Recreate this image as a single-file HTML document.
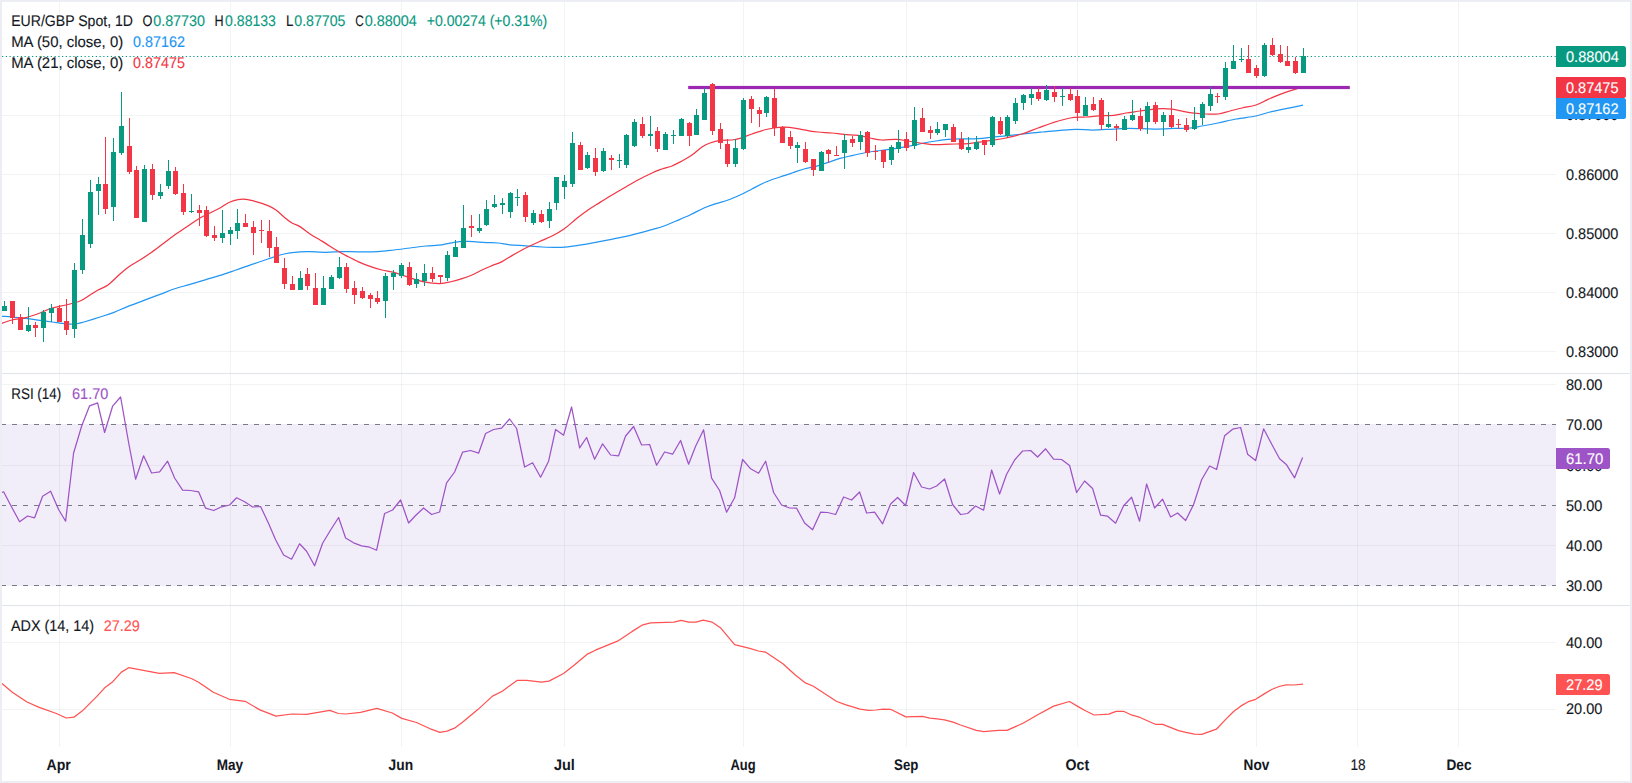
<!DOCTYPE html>
<html lang="en"><head><meta charset="utf-8"><title>EUR/GBP Spot, 1D</title>
<style>html,body{margin:0;padding:0;background:#fff;overflow:hidden}svg{display:block}text{font-family:"Liberation Sans","DejaVu Sans",sans-serif;font-size:15.4px;text-rendering:geometricPrecision;fill:#131722}.n{font-size:15.4px}text{stroke:#131722;stroke-width:0.12px}.b{font-weight:bold;stroke-width:0.05px}.w{fill:#fff;stroke:#fff}.g{fill:#089981;stroke:#089981}.bl{fill:#2196f3;stroke:#2196f3}.r{fill:#f23645;stroke:#f23645}.p{fill:#9d54c6;stroke:#9d54c6}.a{fill:#ff5252;stroke:#ff5252}</style></head><body>
<svg width="1632" height="783" viewBox="0 0 1632 783">
<rect width="1632" height="783" fill="#fff"/>
<g shape-rendering="crispEdges" fill="rgba(42,46,57,0.06)">
<rect x="59" y="2" width="1" height="745"/>
<rect x="230" y="2" width="1" height="745"/>
<rect x="401" y="2" width="1" height="745"/>
<rect x="564" y="2" width="1" height="745"/>
<rect x="743" y="2" width="1" height="745"/>
<rect x="906" y="2" width="1" height="745"/>
<rect x="1077" y="2" width="1" height="745"/>
<rect x="1256" y="2" width="1" height="745"/>
<rect x="1357" y="2" width="1" height="745"/>
<rect x="1458" y="2" width="1" height="745"/>
<rect x="2" y="115" width="1554" height="1"/>
<rect x="2" y="174" width="1554" height="1"/>
<rect x="2" y="233" width="1554" height="1"/>
<rect x="2" y="292" width="1554" height="1"/>
<rect x="2" y="351" width="1554" height="1"/>
<rect x="2" y="384" width="1554" height="1"/>
<rect x="2" y="465" width="1554" height="1"/>
<rect x="2" y="545" width="1554" height="1"/>
<rect x="2" y="642" width="1554" height="1"/>
<rect x="2" y="709" width="1554" height="1"/>
</g>
<rect x="2" y="424" width="1554" height="162" fill="rgba(126,87,194,0.1)" shape-rendering="crispEdges"/>
<line x1="1" y1="424.5" x2="1556" y2="424.5" stroke="#787b86" stroke-width="1" stroke-dasharray="5 6" shape-rendering="crispEdges"/>
<line x1="1" y1="505.5" x2="1556" y2="505.5" stroke="#787b86" stroke-width="1" stroke-dasharray="5 6" shape-rendering="crispEdges"/>
<line x1="1" y1="585.5" x2="1556" y2="585.5" stroke="#787b86" stroke-width="1" stroke-dasharray="5 6" shape-rendering="crispEdges"/>
<g shape-rendering="crispEdges">
<rect x="0" y="373" width="1632" height="1" fill="#e0e3eb"/>
<rect x="0" y="605" width="1632" height="1" fill="#e0e3eb"/>
</g>
<line x1="2" y1="56.5" x2="1556" y2="56.5" stroke="#089981" stroke-width="1" stroke-dasharray="1.25 2.5"/>
<path d="M0.0 316.0C2.0 316.2 7.7 316.6 12.0 317.0C16.3 317.4 21.3 317.8 26.0 318.4C30.7 319.0 35.7 319.8 40.0 320.4C44.3 321.0 47.7 321.4 52.0 322.0C56.3 322.6 62.0 323.7 66.0 324.0C70.0 324.3 73.0 324.3 76.0 324.0C79.0 323.7 80.0 323.2 84.0 322.0C88.0 320.8 95.0 318.6 100.0 317.0C105.0 315.4 109.3 314.2 114.0 312.4C118.7 310.6 123.0 308.4 128.0 306.4C133.0 304.4 138.7 302.4 144.0 300.4C149.3 298.4 155.0 296.3 160.0 294.4C165.0 292.5 169.0 290.7 174.0 289.0C179.0 287.3 184.7 286.0 190.0 284.4C195.3 282.8 201.0 281.1 206.0 279.6C211.0 278.1 215.0 277.0 220.0 275.4C225.0 273.8 230.7 271.8 236.0 270.0C241.3 268.2 246.7 266.2 252.0 264.4C257.3 262.6 263.3 260.6 268.0 259.0C272.7 257.4 276.3 256.0 280.0 255.0C283.7 254.0 286.7 253.3 290.0 252.8C293.3 252.3 296.7 252.0 300.0 251.8C303.3 251.6 305.7 251.5 310.0 251.6C314.3 251.7 320.7 252.3 326.0 252.3C331.3 252.3 336.7 251.7 342.0 251.6C347.3 251.5 352.0 251.8 358.0 251.8C364.0 251.8 372.0 251.9 378.0 251.6C384.0 251.3 388.7 250.6 394.0 250.0C399.3 249.4 404.7 248.7 410.0 248.0C415.3 247.3 420.7 246.5 426.0 246.0C431.3 245.5 437.3 245.4 442.0 244.8C446.7 244.2 450.0 243.0 454.0 242.4C458.0 241.8 462.7 241.5 466.0 241.4C469.3 241.3 470.7 241.4 474.0 241.6C477.3 241.8 482.0 242.4 486.0 242.6C490.0 242.8 494.0 242.6 498.0 243.0C502.0 243.4 505.3 244.3 510.0 244.8C514.7 245.3 520.7 245.4 526.0 245.8C531.3 246.2 536.0 246.7 542.0 247.0C548.0 247.3 556.0 247.7 562.0 247.4C568.0 247.1 572.7 246.2 578.0 245.4C583.3 244.6 588.7 243.6 594.0 242.6C599.3 241.6 604.7 240.6 610.0 239.6C615.3 238.6 620.7 237.6 626.0 236.4C631.3 235.2 637.7 233.5 642.0 232.4C646.3 231.3 648.3 230.7 652.0 229.6C655.7 228.5 660.0 227.4 664.0 226.0C668.0 224.6 671.7 222.8 676.0 221.0C680.3 219.2 685.3 217.2 690.0 215.0C694.7 212.8 699.7 209.9 704.0 208.0C708.3 206.1 712.0 204.9 716.0 203.6C720.0 202.3 724.0 201.4 728.0 200.0C732.0 198.6 736.0 196.8 740.0 195.0C744.0 193.2 747.7 191.2 752.0 189.0C756.3 186.8 761.3 184.0 766.0 182.0C770.7 180.0 775.7 178.5 780.0 177.0C784.3 175.5 788.0 174.3 792.0 173.0C796.0 171.7 800.0 170.1 804.0 169.0C808.0 167.9 812.0 167.5 816.0 166.4C820.0 165.3 824.0 163.7 828.0 162.4C832.0 161.1 836.0 159.5 840.0 158.4C844.0 157.3 848.0 156.5 852.0 155.6C856.0 154.7 860.0 153.8 864.0 153.0C868.0 152.2 872.0 151.6 876.0 151.0C880.0 150.4 884.0 150.2 888.0 149.6C892.0 149.0 896.0 148.3 900.0 147.6C904.0 146.9 908.0 146.4 912.0 145.6C916.0 144.8 920.0 143.8 924.0 143.0C928.0 142.2 932.0 141.6 936.0 141.0C940.0 140.4 944.0 139.8 948.0 139.4C952.0 139.0 955.0 138.9 960.0 138.8C965.0 138.7 972.3 138.9 978.0 138.6C983.7 138.3 988.7 137.5 994.0 137.0C999.3 136.5 1004.7 136.0 1010.0 135.4C1015.3 134.8 1020.7 134.2 1026.0 133.6C1031.3 133.0 1036.7 132.5 1042.0 132.0C1047.3 131.5 1052.3 131.0 1058.0 130.6C1063.7 130.2 1070.3 129.5 1076.0 129.4C1081.7 129.3 1086.7 130.0 1092.0 130.0C1097.3 130.0 1102.3 129.7 1108.0 129.4C1113.7 129.1 1120.3 128.5 1126.0 128.4C1131.7 128.3 1136.7 128.5 1142.0 128.6C1147.3 128.7 1152.7 129.0 1158.0 129.0C1163.3 129.0 1168.7 128.6 1174.0 128.4C1179.3 128.2 1185.3 128.4 1190.0 128.0C1194.7 127.6 1197.3 126.8 1202.0 126.0C1206.7 125.2 1212.3 124.2 1218.0 123.0C1223.7 121.8 1229.7 120.2 1236.0 119.0C1242.3 117.8 1250.3 117.2 1256.0 116.0C1261.7 114.8 1265.0 113.2 1270.0 112.0C1275.0 110.8 1280.5 109.7 1286.0 108.6C1291.5 107.5 1300.2 105.8 1303.0 105.2" fill="none" stroke="#2196f3" stroke-width="1.25" stroke-linejoin="round"/>
<path d="M0.0 324.0C2.0 323.3 7.7 321.1 12.0 320.0C16.3 318.9 21.3 318.8 26.0 317.6C30.7 316.4 35.7 314.6 40.0 313.0C44.3 311.4 47.7 309.3 52.0 308.0C56.3 306.7 61.3 306.2 66.0 305.0C70.7 303.8 76.0 302.7 80.0 301.0C84.0 299.3 87.0 296.8 90.0 295.0C93.0 293.2 95.0 291.7 98.0 290.0C101.0 288.3 104.3 287.7 108.0 285.0C111.7 282.3 116.3 277.2 120.0 274.0C123.7 270.8 126.7 268.3 130.0 266.0C133.3 263.7 136.3 262.3 140.0 260.0C143.7 257.7 148.0 254.8 152.0 252.0C156.0 249.2 160.0 246.0 164.0 243.0C168.0 240.0 172.0 236.8 176.0 234.0C180.0 231.2 184.0 228.7 188.0 226.0C192.0 223.3 196.0 220.3 200.0 218.0C204.0 215.7 208.7 213.7 212.0 212.0C215.3 210.3 217.0 209.7 220.0 208.0C223.0 206.3 227.0 203.4 230.0 202.0C233.0 200.6 235.3 200.0 238.0 199.6C240.7 199.2 243.0 199.1 246.0 199.4C249.0 199.7 252.3 200.6 256.0 201.6C259.7 202.6 264.7 204.2 268.0 205.6C271.3 207.0 273.3 208.1 276.0 210.0C278.7 211.9 281.3 214.8 284.0 217.0C286.7 219.2 289.3 221.4 292.0 223.0C294.7 224.6 297.0 224.8 300.0 226.6C303.0 228.4 306.7 231.8 310.0 234.0C313.3 236.2 317.3 238.4 320.0 240.0C322.7 241.6 323.3 241.9 326.0 243.6C328.7 245.3 332.7 248.0 336.0 250.0C339.3 252.0 342.3 253.7 346.0 255.6C349.7 257.5 354.0 259.8 358.0 261.6C362.0 263.4 366.0 265.0 370.0 266.4C374.0 267.8 378.0 269.0 382.0 270.0C386.0 271.0 390.0 271.3 394.0 272.4C398.0 273.5 402.0 275.1 406.0 276.4C410.0 277.7 414.0 279.3 418.0 280.4C422.0 281.5 426.3 282.3 430.0 282.8C433.7 283.3 436.7 283.7 440.0 283.6C443.3 283.5 446.3 282.8 450.0 282.0C453.7 281.2 458.3 279.8 462.0 278.6C465.7 277.4 468.7 276.4 472.0 275.0C475.3 273.6 478.7 271.6 482.0 270.0C485.3 268.4 488.7 267.0 492.0 265.6C495.3 264.2 498.7 263.3 502.0 261.6C505.3 259.9 508.7 257.5 512.0 255.6C515.3 253.7 518.7 251.8 522.0 250.0C525.3 248.2 528.7 246.6 532.0 245.0C535.3 243.4 538.7 241.9 542.0 240.4C545.3 238.9 548.3 237.9 552.0 236.0C555.7 234.1 560.0 231.8 564.0 229.0C568.0 226.2 572.0 222.2 576.0 219.0C580.0 215.8 584.0 212.8 588.0 210.0C592.0 207.2 596.0 204.9 600.0 202.4C604.0 199.9 608.0 197.4 612.0 195.0C616.0 192.6 620.0 190.3 624.0 188.0C628.0 185.7 631.3 183.5 636.0 181.0C640.7 178.5 647.7 175.0 652.0 173.0C656.3 171.0 658.7 170.2 662.0 169.0C665.3 167.8 668.7 167.3 672.0 166.0C675.3 164.7 678.7 162.8 682.0 161.0C685.3 159.2 688.7 157.3 692.0 155.0C695.3 152.7 699.0 149.0 702.0 147.0C705.0 145.0 707.0 144.1 710.0 143.0C713.0 141.9 716.3 140.9 720.0 140.4C723.7 139.9 728.7 140.3 732.0 140.0C735.3 139.7 736.7 139.4 740.0 138.4C743.3 137.4 748.0 135.4 752.0 134.0C756.0 132.6 760.3 131.0 764.0 130.0C767.7 129.0 770.7 128.5 774.0 128.0C777.3 127.5 780.3 127.1 784.0 127.2C787.7 127.3 792.0 127.8 796.0 128.4C800.0 129.0 804.3 130.0 808.0 130.6C811.7 131.2 814.0 131.6 818.0 132.0C822.0 132.4 827.7 132.6 832.0 133.0C836.3 133.4 839.7 134.0 844.0 134.4C848.3 134.8 853.7 134.8 858.0 135.4C862.3 136.0 866.0 137.2 870.0 138.0C874.0 138.8 877.7 139.8 882.0 140.0C886.3 140.2 891.7 139.2 896.0 139.4C900.3 139.6 904.0 140.4 908.0 141.0C912.0 141.6 916.0 142.4 920.0 143.0C924.0 143.6 928.0 144.4 932.0 144.6C936.0 144.8 940.0 144.5 944.0 144.4C948.0 144.3 952.0 144.1 956.0 144.0C960.0 143.9 964.3 143.9 968.0 143.6C971.7 143.3 974.0 142.7 978.0 142.2C982.0 141.7 987.3 141.1 992.0 140.4C996.7 139.7 1001.0 139.1 1006.0 138.0C1011.0 136.9 1016.7 135.7 1022.0 134.0C1027.3 132.3 1033.0 129.8 1038.0 128.0C1043.0 126.2 1046.7 124.7 1052.0 123.0C1057.3 121.3 1064.3 119.0 1070.0 118.0C1075.7 117.0 1080.7 117.4 1086.0 117.0C1091.3 116.6 1097.3 115.9 1102.0 115.6C1106.7 115.3 1110.0 115.8 1114.0 115.4C1118.0 115.0 1121.7 113.7 1126.0 113.0C1130.3 112.3 1136.0 111.6 1140.0 111.0C1144.0 110.4 1146.3 110.0 1150.0 109.6C1153.7 109.2 1158.3 108.7 1162.0 108.6C1165.7 108.5 1168.3 108.7 1172.0 109.2C1175.7 109.7 1180.3 110.9 1184.0 111.6C1187.7 112.3 1190.3 112.8 1194.0 113.2C1197.7 113.6 1202.0 113.9 1206.0 114.0C1210.0 114.1 1214.0 114.5 1218.0 114.0C1222.0 113.5 1226.0 112.0 1230.0 111.0C1234.0 110.0 1237.7 109.0 1242.0 108.0C1246.3 107.0 1251.7 106.4 1256.0 105.0C1260.3 103.6 1263.7 101.3 1268.0 99.4C1272.3 97.5 1277.7 95.2 1282.0 93.6C1286.3 92.0 1290.5 90.6 1294.0 89.6C1297.5 88.6 1301.5 87.8 1303.0 87.5" fill="none" stroke="#f23645" stroke-width="1.25" stroke-linejoin="round"/>
<rect x="688.2" y="85.9" width="661.6" height="3.2" fill="#9c27b0"/>
<g shape-rendering="crispEdges" fill="#089981"><rect x="4" y="301" width="1" height="10"/><rect x="2" y="306" width="5" height="5"/><rect x="28" y="307" width="1" height="25"/><rect x="26" y="325" width="5" height="6"/><rect x="43" y="310" width="1" height="32"/><rect x="41" y="312" width="5" height="16"/><rect x="51" y="304" width="1" height="18"/><rect x="49" y="308" width="5" height="5"/><rect x="74" y="263" width="1" height="75"/><rect x="72" y="270" width="5" height="59"/><rect x="82" y="219" width="1" height="55"/><rect x="80" y="235" width="5" height="35"/><rect x="90" y="180" width="1" height="68"/><rect x="88" y="192" width="5" height="52"/><rect x="98" y="177" width="1" height="38"/><rect x="96" y="184" width="5" height="7"/><rect x="113" y="138" width="1" height="83"/><rect x="111" y="152" width="5" height="55"/><rect x="121" y="92" width="1" height="63"/><rect x="119" y="126" width="5" height="27"/><rect x="144" y="165" width="1" height="57"/><rect x="142" y="169" width="5" height="53"/><rect x="160" y="184" width="1" height="15"/><rect x="158" y="192" width="5" height="4"/><rect x="168" y="160" width="1" height="29"/><rect x="166" y="171" width="5" height="15"/><rect x="191" y="194" width="1" height="19"/><rect x="189" y="211" width="5" height="1"/><rect x="222" y="210" width="1" height="33"/><rect x="220" y="233" width="5" height="5"/><rect x="230" y="227" width="1" height="18"/><rect x="228" y="230" width="5" height="4"/><rect x="237" y="209" width="1" height="30"/><rect x="235" y="223" width="5" height="8"/><rect x="300" y="271" width="1" height="19"/><rect x="298" y="278" width="5" height="12"/><rect x="323" y="276" width="1" height="29"/><rect x="321" y="288" width="5" height="17"/><rect x="331" y="275" width="1" height="14"/><rect x="329" y="277" width="5" height="12"/><rect x="339" y="257" width="1" height="22"/><rect x="337" y="267" width="5" height="11"/><rect x="385" y="273" width="1" height="45"/><rect x="383" y="276" width="5" height="25"/><rect x="393" y="270" width="1" height="20"/><rect x="391" y="273" width="5" height="4"/><rect x="401" y="263" width="1" height="15"/><rect x="399" y="265" width="5" height="11"/><rect x="416" y="273" width="1" height="15"/><rect x="414" y="279" width="5" height="5"/><rect x="424" y="264" width="1" height="22"/><rect x="422" y="273" width="5" height="8"/><rect x="447" y="251" width="1" height="30"/><rect x="445" y="255" width="5" height="23"/><rect x="455" y="240" width="1" height="17"/><rect x="453" y="247" width="5" height="10"/><rect x="463" y="205" width="1" height="43"/><rect x="461" y="228" width="5" height="20"/><rect x="479" y="214" width="1" height="19"/><rect x="477" y="228" width="5" height="3"/><rect x="486" y="200" width="1" height="26"/><rect x="484" y="209" width="5" height="16"/><rect x="494" y="195" width="1" height="13"/><rect x="492" y="204" width="5" height="3"/><rect x="502" y="198" width="1" height="16"/><rect x="500" y="203" width="5" height="2"/><rect x="510" y="192" width="1" height="26"/><rect x="508" y="193" width="5" height="19"/><rect x="517" y="189" width="1" height="17"/><rect x="515" y="197" width="5" height="1"/><rect x="533" y="210" width="1" height="15"/><rect x="531" y="213" width="5" height="10"/><rect x="549" y="202" width="1" height="26"/><rect x="547" y="209" width="5" height="12"/><rect x="556" y="177" width="1" height="33"/><rect x="554" y="177" width="5" height="26"/><rect x="564" y="175" width="1" height="24"/><rect x="562" y="181" width="5" height="6"/><rect x="572" y="132" width="1" height="55"/><rect x="570" y="143" width="5" height="41"/><rect x="587" y="152" width="1" height="17"/><rect x="585" y="155" width="5" height="13"/><rect x="603" y="148" width="1" height="24"/><rect x="601" y="151" width="5" height="20"/><rect x="619" y="154" width="1" height="14"/><rect x="617" y="160" width="5" height="1"/><rect x="626" y="134" width="1" height="34"/><rect x="624" y="135" width="5" height="30"/><rect x="634" y="119" width="1" height="28"/><rect x="632" y="122" width="5" height="24"/><rect x="650" y="116" width="1" height="30"/><rect x="648" y="134" width="5" height="2"/><rect x="665" y="132" width="1" height="18"/><rect x="663" y="134" width="5" height="16"/><rect x="673" y="130" width="1" height="14"/><rect x="671" y="135" width="5" height="1"/><rect x="681" y="118" width="1" height="18"/><rect x="679" y="119" width="5" height="17"/><rect x="696" y="109" width="1" height="26"/><rect x="694" y="115" width="5" height="20"/><rect x="704" y="88" width="1" height="32"/><rect x="702" y="93" width="5" height="27"/><rect x="735" y="139" width="1" height="28"/><rect x="733" y="148" width="5" height="16"/><rect x="743" y="98" width="1" height="52"/><rect x="741" y="100" width="5" height="49"/><rect x="766" y="96" width="1" height="21"/><rect x="764" y="97" width="5" height="16"/><rect x="797" y="142" width="1" height="21"/><rect x="795" y="145" width="5" height="3"/><rect x="821" y="151" width="1" height="20"/><rect x="819" y="152" width="5" height="19"/><rect x="844" y="134" width="1" height="35"/><rect x="842" y="140" width="5" height="13"/><rect x="860" y="131" width="1" height="19"/><rect x="858" y="135" width="5" height="7"/><rect x="891" y="145" width="1" height="20"/><rect x="889" y="147" width="5" height="13"/><rect x="898" y="130" width="1" height="23"/><rect x="896" y="142" width="5" height="7"/><rect x="914" y="107" width="1" height="42"/><rect x="912" y="120" width="5" height="26"/><rect x="937" y="122" width="1" height="13"/><rect x="935" y="129" width="5" height="4"/><rect x="945" y="124" width="1" height="13"/><rect x="943" y="124" width="5" height="6"/><rect x="968" y="137" width="1" height="16"/><rect x="966" y="147" width="5" height="3"/><rect x="976" y="136" width="1" height="14"/><rect x="974" y="142" width="5" height="7"/><rect x="992" y="116" width="1" height="31"/><rect x="990" y="117" width="5" height="28"/><rect x="1007" y="115" width="1" height="22"/><rect x="1005" y="117" width="5" height="19"/><rect x="1015" y="98" width="1" height="26"/><rect x="1013" y="103" width="5" height="18"/><rect x="1023" y="94" width="1" height="16"/><rect x="1021" y="95" width="5" height="8"/><rect x="1031" y="88" width="1" height="17"/><rect x="1029" y="94" width="5" height="4"/><rect x="1046" y="85" width="1" height="16"/><rect x="1044" y="90" width="5" height="10"/><rect x="1062" y="88" width="1" height="18"/><rect x="1060" y="96" width="5" height="1"/><rect x="1085" y="97" width="1" height="19"/><rect x="1083" y="105" width="5" height="11"/><rect x="1108" y="112" width="1" height="16"/><rect x="1106" y="124" width="5" height="3"/><rect x="1124" y="116" width="1" height="14"/><rect x="1122" y="119" width="5" height="11"/><rect x="1132" y="100" width="1" height="21"/><rect x="1130" y="115" width="5" height="5"/><rect x="1147" y="102" width="1" height="32"/><rect x="1145" y="106" width="5" height="16"/><rect x="1163" y="112" width="1" height="24"/><rect x="1161" y="115" width="5" height="7"/><rect x="1194" y="107" width="1" height="23"/><rect x="1192" y="120" width="5" height="9"/><rect x="1202" y="102" width="1" height="23"/><rect x="1200" y="104" width="5" height="14"/><rect x="1210" y="87" width="1" height="24"/><rect x="1208" y="94" width="5" height="12"/><rect x="1225" y="62" width="1" height="38"/><rect x="1223" y="68" width="5" height="29"/><rect x="1233" y="45" width="1" height="24"/><rect x="1231" y="61" width="5" height="8"/><rect x="1241" y="48" width="1" height="14"/><rect x="1239" y="59" width="5" height="1"/><rect x="1264" y="43" width="1" height="34"/><rect x="1262" y="45" width="5" height="31"/><rect x="1303" y="48" width="1" height="25"/><rect x="1301" y="56" width="5" height="17"/></g>
<g shape-rendering="crispEdges" fill="#f23645"><rect x="12" y="301" width="1" height="23"/><rect x="10" y="301" width="5" height="17"/><rect x="20" y="314" width="1" height="16"/><rect x="18" y="317" width="5" height="13"/><rect x="35" y="322" width="1" height="15"/><rect x="33" y="325" width="5" height="3"/><rect x="59" y="305" width="1" height="17"/><rect x="57" y="308" width="5" height="14"/><rect x="66" y="299" width="1" height="36"/><rect x="64" y="321" width="5" height="9"/><rect x="105" y="137" width="1" height="77"/><rect x="103" y="184" width="5" height="25"/><rect x="129" y="118" width="1" height="56"/><rect x="127" y="146" width="5" height="26"/><rect x="136" y="166" width="1" height="52"/><rect x="134" y="170" width="5" height="48"/><rect x="152" y="164" width="1" height="36"/><rect x="150" y="169" width="5" height="26"/><rect x="175" y="167" width="1" height="28"/><rect x="173" y="171" width="5" height="23"/><rect x="183" y="184" width="1" height="31"/><rect x="181" y="193" width="5" height="19"/><rect x="199" y="205" width="1" height="21"/><rect x="197" y="210" width="5" height="3"/><rect x="206" y="206" width="1" height="31"/><rect x="204" y="210" width="5" height="26"/><rect x="214" y="226" width="1" height="15"/><rect x="212" y="235" width="5" height="3"/><rect x="245" y="214" width="1" height="13"/><rect x="243" y="223" width="5" height="4"/><rect x="253" y="221" width="1" height="34"/><rect x="251" y="227" width="5" height="6"/><rect x="261" y="220" width="1" height="23"/><rect x="259" y="230" width="5" height="1"/><rect x="269" y="220" width="1" height="37"/><rect x="267" y="231" width="5" height="17"/><rect x="276" y="237" width="1" height="26"/><rect x="274" y="247" width="5" height="16"/><rect x="284" y="258" width="1" height="31"/><rect x="282" y="268" width="5" height="16"/><rect x="292" y="276" width="1" height="14"/><rect x="290" y="284" width="5" height="6"/><rect x="307" y="268" width="1" height="22"/><rect x="305" y="274" width="5" height="12"/><rect x="315" y="273" width="1" height="32"/><rect x="313" y="288" width="5" height="17"/><rect x="346" y="263" width="1" height="30"/><rect x="344" y="267" width="5" height="22"/><rect x="354" y="281" width="1" height="23"/><rect x="352" y="288" width="5" height="7"/><rect x="362" y="287" width="1" height="12"/><rect x="360" y="291" width="5" height="7"/><rect x="370" y="293" width="1" height="15"/><rect x="368" y="295" width="5" height="4"/><rect x="377" y="291" width="1" height="13"/><rect x="375" y="298" width="5" height="4"/><rect x="409" y="262" width="1" height="24"/><rect x="407" y="267" width="5" height="18"/><rect x="432" y="267" width="1" height="15"/><rect x="430" y="273" width="5" height="6"/><rect x="440" y="275" width="1" height="9"/><rect x="438" y="275" width="5" height="2"/><rect x="471" y="215" width="1" height="22"/><rect x="469" y="226" width="5" height="2"/><rect x="525" y="192" width="1" height="30"/><rect x="523" y="195" width="5" height="22"/><rect x="541" y="210" width="1" height="13"/><rect x="539" y="214" width="5" height="8"/><rect x="580" y="142" width="1" height="28"/><rect x="578" y="145" width="5" height="25"/><rect x="595" y="148" width="1" height="28"/><rect x="593" y="158" width="5" height="14"/><rect x="611" y="155" width="1" height="15"/><rect x="609" y="158" width="5" height="2"/><rect x="642" y="117" width="1" height="21"/><rect x="640" y="124" width="5" height="12"/><rect x="657" y="127" width="1" height="25"/><rect x="655" y="131" width="5" height="18"/><rect x="689" y="122" width="1" height="24"/><rect x="687" y="123" width="5" height="13"/><rect x="712" y="83" width="1" height="52"/><rect x="710" y="84" width="5" height="47"/><rect x="720" y="123" width="1" height="26"/><rect x="718" y="129" width="5" height="14"/><rect x="727" y="139" width="1" height="28"/><rect x="725" y="144" width="5" height="20"/><rect x="751" y="96" width="1" height="27"/><rect x="749" y="99" width="5" height="10"/><rect x="759" y="107" width="1" height="20"/><rect x="757" y="110" width="5" height="4"/><rect x="774" y="89" width="1" height="47"/><rect x="772" y="98" width="5" height="30"/><rect x="782" y="126" width="1" height="17"/><rect x="780" y="127" width="5" height="16"/><rect x="790" y="131" width="1" height="18"/><rect x="788" y="137" width="5" height="9"/><rect x="805" y="142" width="1" height="21"/><rect x="803" y="149" width="5" height="13"/><rect x="813" y="159" width="1" height="17"/><rect x="811" y="159" width="5" height="11"/><rect x="828" y="149" width="1" height="14"/><rect x="826" y="150" width="5" height="4"/><rect x="836" y="146" width="1" height="10"/><rect x="834" y="155" width="5" height="1"/><rect x="852" y="136" width="1" height="11"/><rect x="850" y="139" width="5" height="4"/><rect x="867" y="131" width="1" height="26"/><rect x="865" y="132" width="5" height="21"/><rect x="875" y="145" width="1" height="15"/><rect x="873" y="151" width="5" height="1"/><rect x="883" y="150" width="1" height="18"/><rect x="881" y="150" width="5" height="12"/><rect x="906" y="132" width="1" height="19"/><rect x="904" y="139" width="5" height="9"/><rect x="922" y="108" width="1" height="24"/><rect x="920" y="118" width="5" height="14"/><rect x="930" y="126" width="1" height="13"/><rect x="928" y="130" width="5" height="3"/><rect x="953" y="124" width="1" height="18"/><rect x="951" y="127" width="5" height="15"/><rect x="961" y="132" width="1" height="18"/><rect x="959" y="139" width="5" height="10"/><rect x="984" y="140" width="1" height="15"/><rect x="982" y="140" width="5" height="5"/><rect x="1000" y="117" width="1" height="18"/><rect x="998" y="121" width="5" height="13"/><rect x="1038" y="88" width="1" height="13"/><rect x="1036" y="92" width="5" height="7"/><rect x="1054" y="86" width="1" height="16"/><rect x="1052" y="92" width="5" height="5"/><rect x="1070" y="88" width="1" height="13"/><rect x="1068" y="94" width="5" height="6"/><rect x="1077" y="90" width="1" height="31"/><rect x="1075" y="96" width="5" height="17"/><rect x="1093" y="97" width="1" height="14"/><rect x="1091" y="104" width="5" height="6"/><rect x="1101" y="98" width="1" height="32"/><rect x="1099" y="100" width="5" height="25"/><rect x="1116" y="124" width="1" height="17"/><rect x="1114" y="126" width="5" height="2"/><rect x="1140" y="108" width="1" height="23"/><rect x="1138" y="116" width="5" height="13"/><rect x="1155" y="102" width="1" height="22"/><rect x="1153" y="105" width="5" height="17"/><rect x="1171" y="100" width="1" height="28"/><rect x="1169" y="115" width="5" height="12"/><rect x="1178" y="119" width="1" height="10"/><rect x="1176" y="124" width="5" height="1"/><rect x="1186" y="118" width="1" height="14"/><rect x="1184" y="125" width="5" height="5"/><rect x="1217" y="93" width="1" height="10"/><rect x="1215" y="96" width="5" height="1"/><rect x="1248" y="45" width="1" height="28"/><rect x="1246" y="59" width="5" height="14"/><rect x="1256" y="65" width="1" height="13"/><rect x="1254" y="68" width="5" height="8"/><rect x="1272" y="38" width="1" height="18"/><rect x="1270" y="45" width="5" height="10"/><rect x="1280" y="45" width="1" height="18"/><rect x="1278" y="54" width="5" height="8"/><rect x="1287" y="46" width="1" height="20"/><rect x="1285" y="61" width="5" height="5"/><rect x="1295" y="57" width="1" height="17"/><rect x="1293" y="61" width="5" height="12"/></g>
<polyline points="-2.7,494.5 3.6,491.8 11.6,507.0 19.6,521.8 27.6,516.0 34.6,517.8 42.6,496.2 50.6,491.2 58.6,509.5 65.6,521.2 73.6,453.0 81.6,426.2 89.6,405.8 97.6,402.8 104.6,432.5 112.6,406.2 120.6,397.0 128.6,442.5 135.6,479.2 143.6,455.8 151.6,473.0 159.6,471.8 167.6,461.2 174.6,478.0 182.6,490.2 190.6,490.5 198.6,491.8 205.6,508.2 213.6,510.5 221.6,506.8 229.6,505.0 236.6,497.8 244.6,501.8 252.6,507.0 260.6,506.5 268.6,523.6 275.6,539.8 283.6,555.0 291.6,559.2 299.6,543.8 306.6,551.2 314.6,565.8 322.6,543.2 330.6,530.0 338.6,517.5 345.6,538.0 353.6,542.8 361.6,545.8 369.6,547.2 376.6,550.2 384.6,513.5 392.6,510.0 400.6,500.0 408.6,523.0 415.6,515.5 423.6,508.0 431.6,514.5 439.6,512.0 446.6,482.8 454.6,472.0 462.6,452.2 470.6,450.5 478.6,453.2 485.6,433.5 493.6,429.5 501.6,428.2 509.6,419.0 516.6,428.5 524.6,467.0 532.6,462.8 540.6,477.2 548.6,461.2 555.6,429.5 563.6,435.2 571.6,407.0 579.6,447.8 586.6,437.5 594.6,459.2 602.6,443.8 610.6,455.0 618.6,455.8 625.6,436.0 633.6,426.5 641.6,445.0 649.6,444.5 656.6,465.2 664.6,452.0 672.6,454.2 680.6,440.5 688.6,464.2 695.6,446.2 703.6,429.8 711.6,478.2 719.6,490.5 726.6,512.2 734.6,497.8 742.6,459.5 750.6,468.8 758.6,473.2 765.6,461.2 773.6,492.5 781.6,505.0 789.6,508.0 796.6,508.2 804.6,523.0 812.6,529.8 820.6,512.2 827.6,512.5 835.6,514.5 843.6,497.0 851.6,500.0 859.6,492.0 866.6,513.0 874.6,512.2 882.6,523.8 890.6,504.0 897.6,497.5 905.6,505.5 913.6,472.5 921.6,487.0 929.6,489.0 936.6,486.0 944.6,479.0 952.6,504.5 960.6,514.5 967.6,513.5 975.6,506.0 983.6,510.2 991.6,470.0 999.6,494.0 1006.6,474.2 1014.6,460.0 1022.6,451.0 1030.6,450.5 1037.6,457.0 1045.6,448.8 1053.6,459.2 1061.6,459.5 1069.6,465.5 1076.6,492.5 1084.6,481.0 1092.6,488.5 1100.6,515.2 1107.6,516.2 1115.6,523.2 1123.6,505.8 1131.6,497.2 1139.6,521.2 1146.6,484.0 1154.6,508.0 1162.6,499.2 1170.6,517.0 1177.6,513.0 1185.6,520.5 1193.6,504.5 1201.6,479.8 1209.6,466.0 1216.6,469.5 1224.6,435.8 1232.6,429.2 1240.6,427.5 1247.6,454.2 1255.6,460.5 1263.6,428.8 1271.6,444.0 1279.6,458.8 1286.6,464.8 1294.6,477.8 1302.6,457.5" fill="none" stroke="#9d54c6" stroke-width="1.25" stroke-linejoin="round"/>
<polyline points="2.0,683.6 12.3,692.2 27.0,702.0 39.2,707.4 56.4,713.5 66.2,718.0 74.0,717.2 82.1,711.1 96.9,696.4 104.7,687.8 112.8,681.7 121.4,672.1 128.7,667.7 144.7,670.6 159.4,673.3 174.1,672.6 191.3,678.5 198.6,682.2 213.3,692.2 229.3,699.3 245.2,701.3 259.9,709.9 275.9,716.2 291.8,714.0 306.5,714.3 329.8,710.4 338.4,713.5 345.8,714.0 360.5,712.3 376.9,708.4 392.3,713.0 401.8,718.4 416.5,722.5 431.2,729.2 439.8,732.4 447.1,731.1 454.5,728.2 463.1,721.8 477.8,709.6 492.5,696.1 502.3,691.2 517.0,680.4 526.8,680.4 541.5,682.1 548.9,681.1 563.6,673.5 573.4,665.7 586.9,654.4 595.4,650.2 617.5,641.2 632.2,631.4 642.0,625.2 650.6,622.8 673.9,622.1 681.2,620.3 688.6,622.1 695.9,622.1 703.3,620.1 711.9,622.1 720.4,627.7 734.6,644.6 749.8,648.3 758.4,651.0 765.8,652.2 782.9,663.7 795.0,674.8 804.8,682.6 813.4,686.3 836.7,701.5 845.3,704.7 860.0,709.1 868.6,710.3 875.9,710.0 883.3,709.1 890.6,709.3 905.8,716.9 922.5,716.4 929.8,718.1 937.2,718.9 944.5,719.9 953.1,722.1 960.5,725.0 976.4,730.4 983.8,731.6 998.5,730.4 1007.0,730.4 1023.0,723.3 1037.7,714.7 1053.6,706.1 1069.5,701.5 1078.1,706.6 1085.5,710.8 1094.0,715.0 1108.8,714.2 1116.1,711.3 1123.5,711.3 1132.0,715.2 1139.4,717.2 1155.3,724.3 1162.7,724.3 1178.6,730.6 1185.8,732.4 1194.4,734.1 1201.7,734.3 1216.4,729.2 1225.0,720.1 1233.6,711.5 1241.0,705.9 1248.3,701.7 1255.7,699.3 1264.2,693.9 1271.6,689.5 1279.0,686.5 1286.3,684.8 1293.6,685.0 1303.0,684.1" fill="none" stroke="#ff5252" stroke-width="1.25" stroke-linejoin="round"/>
<text x="1566.0" y="120.4" textLength="52.4" lengthAdjust="spacingAndGlyphs" class="n">0.87000</text>
<text x="1566.0" y="180.0" textLength="52.4" lengthAdjust="spacingAndGlyphs" class="n">0.86000</text>
<text x="1566.0" y="239.0" textLength="52.4" lengthAdjust="spacingAndGlyphs" class="n">0.85000</text>
<text x="1566.0" y="298.0" textLength="52.4" lengthAdjust="spacingAndGlyphs" class="n">0.84000</text>
<text x="1566.0" y="357.0" textLength="52.4" lengthAdjust="spacingAndGlyphs" class="n">0.83000</text>
<text x="1566.0" y="390.0" textLength="36.4" lengthAdjust="spacingAndGlyphs" class="n">80.00</text>
<text x="1566.0" y="430.0" textLength="36.4" lengthAdjust="spacingAndGlyphs" class="n">70.00</text>
<text x="1566.0" y="471.0" textLength="36.4" lengthAdjust="spacingAndGlyphs" class="n">60.00</text>
<text x="1566.0" y="511.0" textLength="36.4" lengthAdjust="spacingAndGlyphs" class="n">50.00</text>
<text x="1566.0" y="551.0" textLength="36.4" lengthAdjust="spacingAndGlyphs" class="n">40.00</text>
<text x="1566.0" y="591.0" textLength="36.4" lengthAdjust="spacingAndGlyphs" class="n">30.00</text>
<text x="1566.0" y="648.0" textLength="36.4" lengthAdjust="spacingAndGlyphs" class="n">40.00</text>
<text x="1566.0" y="714.4" textLength="36.4" lengthAdjust="spacingAndGlyphs" class="n">20.00</text>
<path d="M1556 46.0H1623.5a2.5 2.5 0 0 1 2.5 2.5V64.5a2.5 2.5 0 0 1 -2.5 2.5H1556Z" fill="#089981"/>
<text x="1566.0" y="62.0" textLength="52.8" lengthAdjust="spacingAndGlyphs" class="w n">0.88004</text>
<path d="M1556 77.0H1623.5a2.5 2.5 0 0 1 2.5 2.5V95.5a2.5 2.5 0 0 1 -2.5 2.5H1556Z" fill="#f23645"/>
<text x="1566.0" y="93.1" textLength="52.5" lengthAdjust="spacingAndGlyphs" class="w n">0.87475</text>
<path d="M1556 98.0H1623.5a2.5 2.5 0 0 1 2.5 2.5V116.4a2.5 2.5 0 0 1 -2.5 2.5H1556Z" fill="#2196f3"/>
<text x="1566.0" y="114.3" textLength="52.5" lengthAdjust="spacingAndGlyphs" class="w n">0.87162</text>
<path d="M1556 448.0H1607.5a2.5 2.5 0 0 1 2.5 2.5V466.5a2.5 2.5 0 0 1 -2.5 2.5H1556Z" fill="#9d54c6"/>
<text x="1566.0" y="464.0" textLength="37.2" lengthAdjust="spacingAndGlyphs" class="w n">61.70</text>
<path d="M1556 674.0H1607.5a2.5 2.5 0 0 1 2.5 2.5V692.5a2.5 2.5 0 0 1 -2.5 2.5H1556Z" fill="#ff5252"/>
<text x="1566.0" y="690.0" textLength="36.6" lengthAdjust="spacingAndGlyphs" class="w n">27.29</text>
<text x="11.2" y="25.8" textLength="121.8" lengthAdjust="spacingAndGlyphs">EUR/GBP Spot, 1D</text>
<text x="142.4" y="25.8" textLength="9.9" lengthAdjust="spacingAndGlyphs">O</text>
<text x="153.2" y="25.8" textLength="51.8" lengthAdjust="spacingAndGlyphs" class="g n">0.87730</text>
<text x="214.6" y="25.8" textLength="9.1" lengthAdjust="spacingAndGlyphs">H</text>
<text x="225.1" y="25.8" textLength="50.8" lengthAdjust="spacingAndGlyphs" class="g n">0.88133</text>
<text x="285.9" y="25.8" textLength="7.4" lengthAdjust="spacingAndGlyphs">L</text>
<text x="294.3" y="25.8" textLength="51.2" lengthAdjust="spacingAndGlyphs" class="g n">0.87705</text>
<text x="355.3" y="25.8" textLength="8.5" lengthAdjust="spacingAndGlyphs">C</text>
<text x="364.7" y="25.8" textLength="52.1" lengthAdjust="spacingAndGlyphs" class="g n">0.88004</text>
<text x="426.7" y="25.8" textLength="120.5" lengthAdjust="spacingAndGlyphs" class="g n">+0.00274 (+0.31%)</text>
<text x="11.2" y="46.5" textLength="112.0" lengthAdjust="spacingAndGlyphs">MA (50, close, 0)</text>
<text x="133.0" y="46.5" textLength="51.9" lengthAdjust="spacingAndGlyphs" class="bl n">0.87162</text>
<text x="11.2" y="67.5" textLength="112.0" lengthAdjust="spacingAndGlyphs">MA (21, close, 0)</text>
<text x="133.0" y="67.5" textLength="51.9" lengthAdjust="spacingAndGlyphs" class="r n">0.87475</text>
<text x="11.3" y="398.8" textLength="49.9" lengthAdjust="spacingAndGlyphs">RSI (14)</text>
<text x="72.0" y="398.8" textLength="36.3" lengthAdjust="spacingAndGlyphs" class="p n">61.70</text>
<text x="10.9" y="630.7" textLength="83.2" lengthAdjust="spacingAndGlyphs">ADX (14, 14)</text>
<text x="103.7" y="630.7" textLength="36.2" lengthAdjust="spacingAndGlyphs" class="a n">27.29</text>
<text x="46.5" y="769.9" textLength="24.3" lengthAdjust="spacingAndGlyphs" class="b">Apr</text>
<text x="216.8" y="769.9" textLength="26.3" lengthAdjust="spacingAndGlyphs" class="b">May</text>
<text x="388.6" y="769.9" textLength="24.5" lengthAdjust="spacingAndGlyphs" class="b">Jun</text>
<text x="553.9" y="769.9" textLength="20.9" lengthAdjust="spacingAndGlyphs" class="b">Jul</text>
<text x="730.5" y="769.9" textLength="25.2" lengthAdjust="spacingAndGlyphs" class="b">Aug</text>
<text x="894.1" y="769.9" textLength="24.3" lengthAdjust="spacingAndGlyphs" class="b">Sep</text>
<text x="1065.5" y="769.9" textLength="23.6" lengthAdjust="spacingAndGlyphs" class="b">Oct</text>
<text x="1243.6" y="769.9" textLength="25.7" lengthAdjust="spacingAndGlyphs" class="b">Nov</text>
<text x="1350.4" y="769.9" textLength="15.2" lengthAdjust="spacingAndGlyphs" class="n">18</text>
<text x="1446.5" y="769.9" textLength="25.0" lengthAdjust="spacingAndGlyphs" class="b">Dec</text>
<g shape-rendering="crispEdges">
<rect x="0" y="0" width="1632" height="2" fill="#eceef3"/>
<rect x="0" y="781" width="1632" height="2" fill="#eceef3"/>
<rect x="0" y="0" width="2" height="783" fill="#eceef3"/>
<rect x="1630" y="0" width="2" height="783" fill="#eceef3"/>
</g>
</svg></body></html>
